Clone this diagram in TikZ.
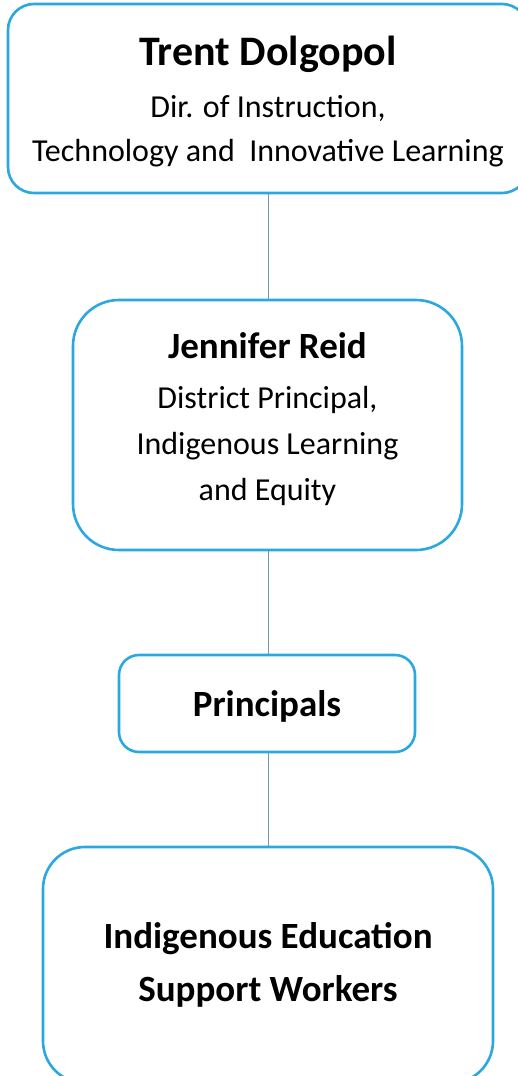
\documentclass[tikz,border=0pt]{standalone}
\usepackage{fontspec}
\setmainfont{Carlito}
\definecolor{BoxBlue}{RGB}{44,168,224}
\definecolor{LinkBlue}{RGB}{110,150,175}

\tikzset{
  orgbox/.style={draw=BoxBlue,line width=2.6pt,fill=white,align=center,inner sep=0pt},
  orglink/.style={draw=LinkBlue,line width=0.7pt},
}

\begin{document}
\begin{tikzpicture}[x=1pt,y=-1pt]

  \useasboundingbox (0,0) rectangle (518,1076);
  \clip (0,0) rectangle (518,1076);

  \draw[orglink] (268,190) -- (268,300);
  \draw[orglink] (268,550) -- (268,655);
  \draw[orglink] (268,752) -- (268,848);

  \node[orgbox,rounded corners=26pt,minimum width=520pt,minimum height=189pt,
        text depth=0pt,font=\fontsize{32}{44}\selectfont] (dir) at (268,98.5)
    {{\fontsize{42}{42}\selectfont\bfseries Trent Dolgopol}\\[8pt]
     Dir. of Instruction,\\
     Technology and~ Innovative Learning};

  \node[orgbox,rounded corners=46pt,minimum width=389pt,minimum height=250pt,
        text depth=17pt,font=\fontsize{32}{46}\selectfont] (dp) at (267.5,425)
    {{\fontsize{37}{37}\selectfont\bfseries Jennifer Reid}\\[4pt]
     District Principal,\\
     Indigenous Learning\\
     and Equity};

  \node[orgbox,rounded corners=20pt,minimum width=296pt,minimum height=97pt,
        text depth=0pt,font=\fontsize{37}{37}\selectfont\bfseries] (prin) at (267,703.5)
    {Principals};

  \node[orgbox,rounded corners=42pt,minimum width=450pt,minimum height=236pt,
        font=\fontsize{37}{53}\selectfont\bfseries] (iesw) at (268,965)
    {Indigenous Education\\
     Support Workers};

\end{tikzpicture}
\end{document}
